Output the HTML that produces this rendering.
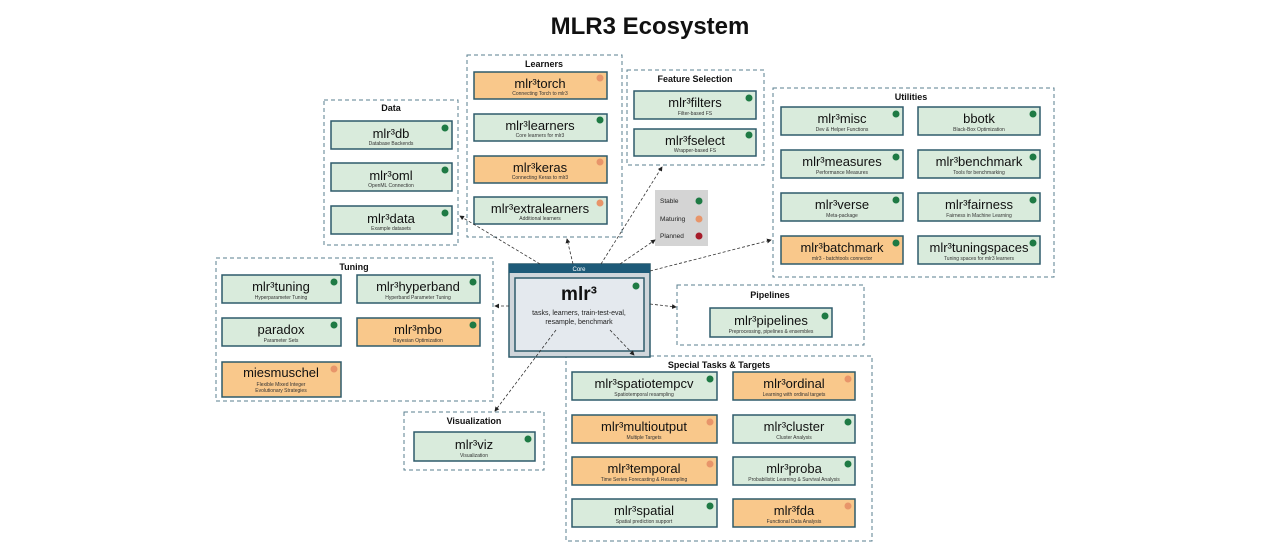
<!DOCTYPE html>
<html><head><meta charset="utf-8"><style>
body{margin:0;background:#fff;}
svg{display:block;font-family:"Liberation Sans",sans-serif;}
.g{fill:#fff;stroke:#5a7f8f;stroke-width:1;stroke-dasharray:4,3;}
.n{fill:#d9ebdc;stroke:#2e5b6b;stroke-width:1.5;}
.o{fill:#f9c88b;stroke:#2e5b6b;stroke-width:1.5;}
.t{font-size:13px;fill:#111;text-anchor:middle;}
.d{font-size:5px;fill:#333;text-anchor:middle;}
.h{font-size:9px;font-weight:bold;fill:#111;text-anchor:middle;}
.a{stroke:#333;stroke-width:0.8;stroke-dasharray:3,2;fill:none;marker-end:url(#m);}
</style></head><body>
<svg width="1280" height="545" viewBox="0 0 1280 545">
<defs><marker id="m" markerWidth="6" markerHeight="6" refX="5" refY="3" orient="auto"><path d="M0,0L6,3L0,6z" fill="#222"/></marker></defs>
<text x="650" y="34" font-size="24" font-weight="bold" text-anchor="middle" fill="#111">MLR3 Ecosystem</text>

<rect class="g" x="467" y="55" width="155" height="182"/><text class="h" x="544" y="67">Learners</text>
<rect class="g" x="324" y="100" width="134" height="145"/><text class="h" x="391" y="111">Data</text>
<rect class="g" x="627" y="70" width="137" height="95"/><text class="h" x="695" y="82">Feature Selection</text>
<rect class="g" x="773" y="88" width="281" height="189"/><text class="h" x="911" y="100">Utilities</text>
<rect class="g" x="216" y="258" width="277" height="143"/><text class="h" x="354" y="270">Tuning</text>
<rect class="g" x="677" y="285" width="187" height="60"/><text class="h" x="770" y="298">Pipelines</text>
<rect class="g" x="566" y="356" width="306" height="185"/><text class="h" x="719" y="368">Special Tasks &amp; Targets</text>
<rect class="g" x="404" y="412" width="140" height="58"/><text class="h" x="474" y="424">Visualization</text>

<rect x="655" y="190" width="53" height="56" fill="#d4d4d4"/>
<text x="660" y="203" font-size="6.5" fill="#222">Stable</text><circle cx="699" cy="201" r="3.5" fill="#1e7a44"/>
<text x="660" y="221" font-size="6.5" fill="#222">Maturing</text><circle cx="699" cy="219" r="3.5" fill="#e8956a"/>
<text x="660" y="238" font-size="6.5" fill="#222">Planned</text><circle cx="699" cy="236" r="3.5" fill="#a61c2a"/>

<g id="nodes">
<!-- node template via rect + text -->
</g>
<g>
<rect class="n" x="331" y="121" width="121" height="28"/><text class="t" x="391" y="138">mlr³db</text><text class="d" x="391" y="145">Database Backends</text><circle cx="445" cy="128" r="3.5" fill="#1e7a44"/>
<rect class="n" x="331" y="163" width="121" height="28"/><text class="t" x="391" y="180">mlr³oml</text><text class="d" x="391" y="187">OpenML Connection</text><circle cx="445" cy="170" r="3.5" fill="#1e7a44"/>
<rect class="n" x="331" y="206" width="121" height="28"/><text class="t" x="391" y="223">mlr³data</text><text class="d" x="391" y="230">Example datasets</text><circle cx="445" cy="213" r="3.5" fill="#1e7a44"/>

<rect class="o" x="474" y="72" width="133" height="27"/><text class="t" x="540" y="88">mlr³torch</text><text class="d" x="540" y="95">Connecting Torch to mlr3</text><circle cx="600" cy="78" r="3.5" fill="#e8956a"/>
<rect class="n" x="474" y="114" width="133" height="27"/><text class="t" x="540" y="130">mlr³learners</text><text class="d" x="540" y="137">Core learners for mlr3</text><circle cx="600" cy="120" r="3.5" fill="#1e7a44"/>
<rect class="o" x="474" y="156" width="133" height="27"/><text class="t" x="540" y="172">mlr³keras</text><text class="d" x="540" y="179">Connecting Keras to mlr3</text><circle cx="600" cy="162" r="3.5" fill="#e8956a"/>
<rect class="n" x="474" y="197" width="133" height="27"/><text class="t" x="540" y="213">mlr³extralearners</text><text class="d" x="540" y="220">Additional learners</text><circle cx="600" cy="203" r="3.5" fill="#e8956a"/>

<rect class="n" x="634" y="91" width="122" height="28"/><text class="t" x="695" y="107">mlr³filters</text><text class="d" x="695" y="115">Filter-based FS</text><circle cx="749" cy="98" r="3.5" fill="#1e7a44"/>
<rect class="n" x="634" y="129" width="122" height="27"/><text class="t" x="695" y="145">mlr³fselect</text><text class="d" x="695" y="152">Wrapper-based FS</text><circle cx="749" cy="135" r="3.5" fill="#1e7a44"/>

<rect class="n" x="781" y="107" width="122" height="28"/><text class="t" x="842" y="123">mlr³misc</text><text class="d" x="842" y="131">Dev &amp; Helper Functions</text><circle cx="896" cy="114" r="3.5" fill="#1e7a44"/>
<rect class="n" x="918" y="107" width="122" height="28"/><text class="t" x="979" y="123">bbotk</text><text class="d" x="979" y="131">Black-Box Optimization</text><circle cx="1033" cy="114" r="3.5" fill="#1e7a44"/>
<rect class="n" x="781" y="150" width="122" height="28"/><text class="t" x="842" y="166">mlr³measures</text><text class="d" x="842" y="174">Performance Measures</text><circle cx="896" cy="157" r="3.5" fill="#1e7a44"/>
<rect class="n" x="918" y="150" width="122" height="28"/><text class="t" x="979" y="166">mlr³benchmark</text><text class="d" x="979" y="174">Tools for benchmarking</text><circle cx="1033" cy="157" r="3.5" fill="#1e7a44"/>
<rect class="n" x="781" y="193" width="122" height="28"/><text class="t" x="842" y="209">mlr³verse</text><text class="d" x="842" y="217">Meta-package</text><circle cx="896" cy="200" r="3.5" fill="#1e7a44"/>
<rect class="n" x="918" y="193" width="122" height="28"/><text class="t" x="979" y="209">mlr³fairness</text><text class="d" x="979" y="217">Fairness in Machine Learning</text><circle cx="1033" cy="200" r="3.5" fill="#1e7a44"/>
<rect class="o" x="781" y="236" width="122" height="28"/><text class="t" x="842" y="252">mlr³batchmark</text><text class="d" x="842" y="260">mlr3 - batchtools connector</text><circle cx="896" cy="243" r="3.5" fill="#1e7a44"/>
<rect class="n" x="918" y="236" width="122" height="28"/><text class="t" x="979" y="252">mlr³tuningspaces</text><text class="d" x="979" y="260">Tuning spaces for mlr3 learners</text><circle cx="1033" cy="243" r="3.5" fill="#1e7a44"/>

<rect class="n" x="222" y="275" width="119" height="28"/><text class="t" x="281" y="291">mlr³tuning</text><text class="d" x="281" y="299">Hyperparameter Tuning</text><circle cx="334" cy="282" r="3.5" fill="#1e7a44"/>
<rect class="n" x="357" y="275" width="123" height="28"/><text class="t" x="418" y="291">mlr³hyperband</text><text class="d" x="418" y="299">Hyperband Parameter Tuning</text><circle cx="473" cy="282" r="3.5" fill="#1e7a44"/>
<rect class="n" x="222" y="318" width="119" height="28"/><text class="t" x="281" y="334">paradox</text><text class="d" x="281" y="342">Parameter Sets</text><circle cx="334" cy="325" r="3.5" fill="#1e7a44"/>
<rect class="o" x="357" y="318" width="123" height="28"/><text class="t" x="418" y="334">mlr³mbo</text><text class="d" x="418" y="342">Bayesian Optimization</text><circle cx="473" cy="325" r="3.5" fill="#1e7a44"/>
<rect class="o" x="222" y="362" width="119" height="35"/><text class="t" x="281" y="377">miesmuschel</text><text class="d" x="281" y="386">Flexible Mixed Integer</text><text class="d" x="281" y="392">Evolutionary Strategies</text><circle cx="334" cy="369" r="3.5" fill="#e8956a"/>

<rect class="n" x="710" y="308" width="122" height="29"/><text class="t" x="771" y="325">mlr³pipelines</text><text class="d" x="771" y="333">Preprocessing, pipelines &amp; ensembles</text><circle cx="825" cy="316" r="3.5" fill="#1e7a44"/>

<rect class="n" x="572" y="372" width="145" height="28"/><text class="t" x="644" y="388">mlr³spatiotempcv</text><text class="d" x="644" y="396">Spatiotemporal resampling</text><circle cx="710" cy="379" r="3.5" fill="#1e7a44"/>
<rect class="o" x="733" y="372" width="122" height="28"/><text class="t" x="794" y="388">mlr³ordinal</text><text class="d" x="794" y="396">Learning with ordinal targets</text><circle cx="848" cy="379" r="3.5" fill="#e8956a"/>
<rect class="o" x="572" y="415" width="145" height="28"/><text class="t" x="644" y="431">mlr³multioutput</text><text class="d" x="644" y="439">Multiple Targets</text><circle cx="710" cy="422" r="3.5" fill="#e8956a"/>
<rect class="n" x="733" y="415" width="122" height="28"/><text class="t" x="794" y="431">mlr³cluster</text><text class="d" x="794" y="439">Cluster Analysis</text><circle cx="848" cy="422" r="3.5" fill="#1e7a44"/>
<rect class="o" x="572" y="457" width="145" height="28"/><text class="t" x="644" y="473">mlr³temporal</text><text class="d" x="644" y="481">Time Series Forecasting &amp; Resampling</text><circle cx="710" cy="464" r="3.5" fill="#e8956a"/>
<rect class="n" x="733" y="457" width="122" height="28"/><text class="t" x="794" y="473">mlr³proba</text><text class="d" x="794" y="481">Probabilistic Learning &amp; Survival Analysis</text><circle cx="848" cy="464" r="3.5" fill="#1e7a44"/>
<rect class="n" x="572" y="499" width="145" height="28"/><text class="t" x="644" y="515">mlr³spatial</text><text class="d" x="644" y="523">Spatial prediction support</text><circle cx="710" cy="506" r="3.5" fill="#1e7a44"/>
<rect class="o" x="733" y="499" width="122" height="28"/><text class="t" x="794" y="515">mlr³fda</text><text class="d" x="794" y="523">Functional Data Analysis</text><circle cx="848" cy="506" r="3.5" fill="#e8956a"/>

<rect class="n" x="414" y="432" width="121" height="29"/><text class="t" x="474" y="449">mlr³viz</text><text class="d" x="474" y="457">Visualization</text><circle cx="528" cy="439" r="3.5" fill="#1e7a44"/>
</g>

<!-- core -->
<rect x="509" y="264" width="141" height="93" fill="#d0d6db" stroke="#2e5b6b" stroke-width="1.5"/>
<rect x="509" y="264" width="141" height="9" fill="#1d5a78"/>
<text x="579" y="271" font-size="6" fill="#fff" text-anchor="middle">Core</text>
<rect x="515" y="278" width="129" height="73" fill="#e4e9ee" stroke="#2e5b6b" stroke-width="1.5"/>
<text x="579" y="300" font-size="19" font-weight="bold" text-anchor="middle" fill="#111">mlr³</text>
<text x="579" y="315" font-size="7" text-anchor="middle" fill="#222">tasks, learners, train-test-eval,</text>
<text x="579" y="324" font-size="7" text-anchor="middle" fill="#222">resample, benchmark</text>
<circle cx="636" cy="286" r="3.5" fill="#1e7a44"/>

<line class="a" x1="540" y1="264" x2="460" y2="216"/>
<line class="a" x1="573" y1="264" x2="567" y2="239"/>
<line class="a" x1="601" y1="264" x2="662" y2="167"/>
<line class="a" x1="620" y1="264" x2="655" y2="240"/>
<line class="a" x1="650" y1="271" x2="771" y2="240"/>
<line class="a" x1="650" y1="304" x2="676" y2="307"/>
<line class="a" x1="610" y1="330" x2="634" y2="355"/>
<line class="a" x1="556" y1="330" x2="495" y2="411"/>
<line class="a" x1="509" y1="306" x2="495" y2="306"/>
</svg>
</body></html>
